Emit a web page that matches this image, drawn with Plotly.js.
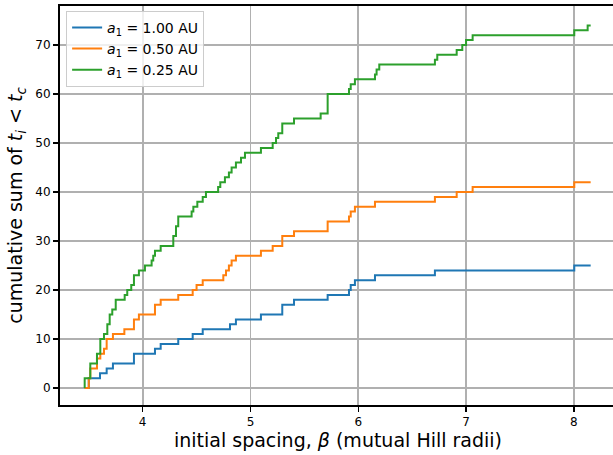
<!DOCTYPE html>
<html>
<head>
<meta charset="utf-8">
<script src="https://cdn.plot.ly/plotly-3.0.1.min.js"></script>
<style>
html, body { margin: 0; padding: 0; overflow: hidden; background: #fff; }
#chart { width: 616px; height: 455px; }
</style>
</head>
<body>
<div id="chart"></div>
<script>
// Series: a1 = 1.00 AU
const betaBlue  = [3.462, 3.500, 3.604, 3.666, 3.724, 3.919, 4.114, 4.167, 4.330, 4.464, 4.557, 4.810, 4.865, 5.097, 5.295, 5.404, 5.716, 5.914, 5.930, 5.969, 6.155, 6.711, 8.004, 8.156];
const countBlue = [0, 2, 3, 4, 5, 7, 8, 9, 10, 11, 12, 13, 14, 15, 17, 18, 19, 20, 21, 22, 23, 24, 25, 25];

// Series: a1 = 0.50 AU
const betaOrange  = [3.462, 3.500, 3.514, 3.576, 3.607, 3.641, 3.666, 3.724, 3.830, 3.919, 3.965, 4.114, 4.167, 4.330, 4.464, 4.500, 4.557, 4.748, 4.773, 4.800, 4.825, 4.865, 5.097, 5.206, 5.295, 5.404, 5.716, 5.914, 5.930, 5.969, 6.155, 6.711, 6.913, 7.061, 8.004, 8.156];
const countOrange = [0, 2, 4, 6, 7, 8, 10, 11, 12, 14, 15, 17, 18, 19, 20, 21, 22, 23, 24, 25, 26, 27, 28, 29, 31, 32, 34, 35, 36, 37, 38, 39, 40, 41, 42, 42];

// Series: a1 = 0.25 AU
const betaGreen  = [3.462, 3.462, 3.514, 3.576, 3.607, 3.641, 3.672, 3.694, 3.718, 3.750, 3.833, 3.857, 3.894, 3.919, 3.965, 4.021, 4.083, 4.098, 4.114, 4.167, 4.284, 4.309, 4.330, 4.454, 4.470, 4.507, 4.557, 4.587, 4.700, 4.720, 4.763, 4.800, 4.825, 4.865, 4.912, 4.949, 5.097, 5.206, 5.237, 5.258, 5.295, 5.404, 5.651, 5.716, 5.914, 5.930, 5.969, 6.155, 6.170, 6.195, 6.711, 6.733, 6.913, 6.965, 7.000, 7.061, 8.004, 8.128, 8.156];
const countGreen = [0, 2, 5, 7, 10, 11, 13, 15, 16, 18, 19, 20, 21, 23, 24, 25, 26, 27, 28, 29, 31, 33, 35, 36, 37, 38, 39, 40, 41, 42, 43, 44, 45, 46, 47, 48, 49, 50, 51, 52, 54, 55, 56, 60, 61, 62, 63, 64, 65, 66, 67, 68, 69, 70, 71, 72, 73, 74, 74];

const seriesNames = [
  '<i>a</i><sub>1</sub> = 1.00 AU',
  '<i>a</i><sub>1</sub> = 0.50 AU',
  '<i>a</i><sub>1</sub> = 0.25 AU'
];
const seriesColors = ['#1f77b4', '#ff7f0e', '#2ca02c'];

const xTicks = [4, 5, 6, 7, 8];
const yTicks = [0, 10, 20, 30, 40, 50, 60, 70];

const xs = [betaBlue, betaOrange, betaGreen];
const ys = [countBlue, countOrange, countGreen];

const traces = xs.map((x, i) => ({
  x: x,
  y: ys[i],
  type: 'scatter',
  mode: 'lines',
  line: { shape: 'hv', color: seriesColors[i], width: 2 },
  name: seriesNames[i]
}));

const font = 'DejaVu Sans, sans-serif';

const layout = {
  width: 616,
  height: 455,
  margin: { l: 60, r: 0, t: 6, b: 50 },
  paper_bgcolor: '#ffffff',
  plot_bgcolor: '#ffffff',
  font: { family: font, size: 12, color: '#000' },
  showlegend: true,
  legend: {
    x: 0.011, y: 0.988, xanchor: 'left', yanchor: 'top',
    bgcolor: 'rgba(255,255,255,0.8)',
    bordercolor: '#cccccc', borderwidth: 1,
    font: { family: font, size: 14, color: '#000' },
    tracegroupgap: 0
  },
  xaxis: {
    range: [3.233, 8.391],
    tickvals: xTicks,
    ticktext: xTicks.map(String),
    showgrid: true, gridcolor: '#b0b0b0', gridwidth: 1.8,
    zeroline: false,
    showline: true, linecolor: '#000', linewidth: 2, mirror: true,
    ticks: 'outside', ticklen: 5, tickwidth: 1.5, tickcolor: '#000',
    tickfont: { family: font, size: 12 },
    title: { text: 'initial spacing, <i>β</i> (mutual Hill radii)', font: { family: font, size: 19 }, standoff: 5 }
  },
  yaxis: {
    range: [-3.47, 77.96],
    tickvals: yTicks,
    ticktext: yTicks.map(String),
    showgrid: true, gridcolor: '#b0b0b0', gridwidth: 1.8,
    zeroline: false,
    showline: true, linecolor: '#000', linewidth: 2, mirror: true,
    ticks: 'outside', ticklen: 5, tickwidth: 1.5, tickcolor: '#000',
    tickfont: { family: font, size: 12 },
    title: { text: 'cumulative sum of <i>t</i><sub><i>i</i></sub>&nbsp;&lt;&nbsp;<i>t</i><sub><i>c</i></sub>', font: { family: font, size: 19 }, standoff: 8 }
  }
};

Plotly.newPlot('chart', traces, layout, { staticPlot: true, displayModeBar: false });
</script>
</body>
</html>
